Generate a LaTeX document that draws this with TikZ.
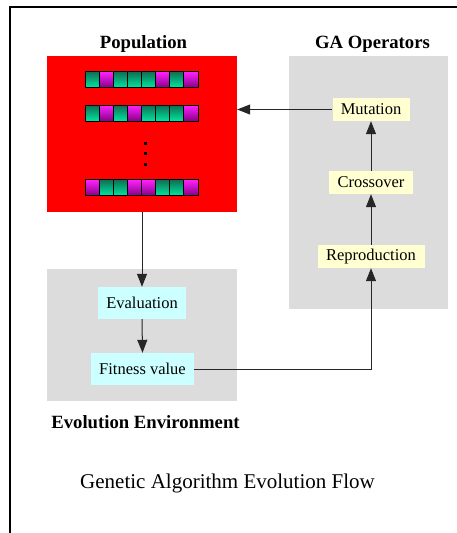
\documentclass[tikz,border=0pt]{standalone}
\usepackage{fontspec}
\setmainfont{Liberation Serif}
\usetikzlibrary{arrows.meta}
\definecolor{panelgray}{HTML}{DCDCDC}
\definecolor{opyellow}{HTML}{FFFFD2}
\definecolor{envcyan}{HTML}{CCFFFF}
\definecolor{genegreentop}{HTML}{0E6E52}
\definecolor{genegreenbot}{HTML}{00E6A0}
\definecolor{genepinktop}{HTML}{FF22FF}
\definecolor{genepinkbot}{HTML}{860086}
\tikzset{
  panel/.style={fill=panelgray, draw=none, inner sep=0pt},
  title/.style={font=\fontsize{18.7}{20}\selectfont\bfseries, anchor=base},
  opbox/.style={fill=opyellow, draw=none, font=\fontsize{16.5}{18}\selectfont, minimum height=23pt, inner sep=0pt},
  envbox/.style={fill=envcyan, draw=none, font=\fontsize{16.5}{18}\selectfont, minimum height=32pt, inner sep=0pt},
  flow/.style={draw=black!85, line width=1pt, -{Triangle[length=13pt,width=10pt]}},
  gene/.style={draw=black, line width=0.6pt, minimum width=14.1pt, minimum height=16pt, inner sep=0pt},
  geneG/.style={gene, top color=genegreentop, bottom color=genegreenbot},
  geneM/.style={gene, top color=genepinktop, bottom color=genepinkbot},
  dot/.style={fill=black, minimum size=3pt, inner sep=0pt}
}
\begin{document}
\begin{tikzpicture}[x=1pt, y=-1pt]
\useasboundingbox (0,0) rectangle (456,533);
% page frame
\draw[line width=2pt] (457,7) -- (10,7) -- (10,534);

% panels
\node[panel, fill=red, minimum width=190pt, minimum height=156pt] (pop) at (142,134) {};
\node[panel, minimum width=159pt, minimum height=253pt] (ga) at (368.5,182.5) {};
\node[panel, minimum width=190pt, minimum height=132pt] (env) at (142,335) {};

% titles
\node[title] (popt) at (143.5,48) {Population};
\node[title] (gat) at (372.5,48) {GA Operators};
\node[title] (envt) at (145.5,428) {Evolution Environment};

% chromosomes
\foreach \row/\y in {1/79.5, 2/113, 3/187.5} {
  \ifcase\row\or
    \def\genes{G,M,G,G,G,M,G,M}\or
    \def\genes{G,M,G,M,G,G,G,M}\or
    \def\genes{M,G,G,M,M,G,G,M}\fi
  \foreach \g [count=\i] in \genes {
    \node[gene\g] (c\row-\i) at ({85+14.1*(\i-0.5)},\y) {};
  }
}
\node[dot] (d1) at (145,143) {};
\node[dot] (d2) at (145,153.5) {};
\node[dot] (d3) at (145,164) {};

% operators
\node[opbox, minimum width=77pt] (mut) at (371,109.5) {Mutation};
\node[opbox, minimum width=84pt] (cro) at (371,182.5) {Crossover};
\node[opbox, minimum width=107pt] (rep) at (371,256.5) {Reproduction};

% evaluation
\node[envbox, minimum width=88pt] (eval) at (142,303) {Evaluation};
\node[envbox, minimum width=103pt] (fit) at (142.5,369) {Fitness value};

% connectors
\draw[flow] (mut.west) -- (mut.west -| pop.east);
\draw[flow] (cro.north) -- (mut.south);
\draw[flow] (rep.north) -- (cro.south);
\draw[flow] (pop.south) -- (eval.north);
\draw[flow] (eval.south) -- (fit.north);
\draw[flow] (fit.east) -| (rep.south);

% caption
\node[font=\fontsize{21}{24}\selectfont, anchor=base] (cap) at (227.5,488) {Genetic Algorithm Evolution Flow};
\end{tikzpicture}
\end{document}
